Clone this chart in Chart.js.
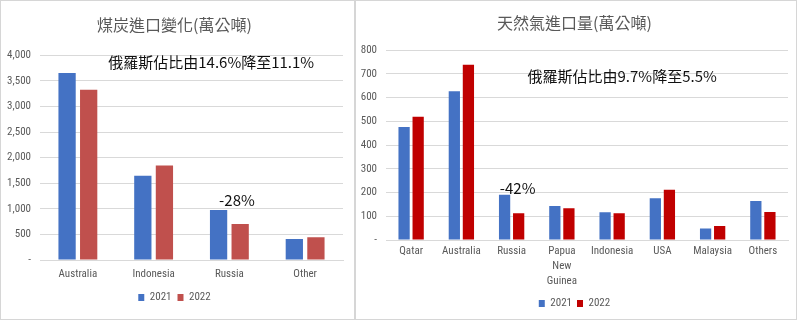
<!DOCTYPE html>
<html>
<head>
<meta charset="utf-8">
<script src="https://cdn.jsdelivr.net/npm/chart.js@4/dist/chart.umd.min.js"></script>
<style>
  body { margin: 0; background: #fff; width: 800px; height: 324px; overflow: hidden; position: relative; }
  .panel { position: absolute; top: 0; height: 320px; box-sizing: border-box; border: 1px solid #d6d6d6; }
  #coalBox { left: 0; width: 355px; }
  #gasBox { left: 355px; width: 442px; }
</style>
</head>
<body>
<div class="panel" id="coalBox"><canvas id="coalChart"></canvas></div>
<div class="panel" id="gasBox"><canvas id="gasChart"></canvas></div>
<script>
// Coal imports (萬公噸)
const coalLabels = ['Australia', 'Indonesia', 'Russia', 'Other'];
const coal2021 = [3650, 1645, 975, 412];
const coal2022 = [3325, 1845, 705, 445];
const coalTicks = { max: 4000, step: 500 };

// Natural gas imports (萬公噸)
const gasLabels = ['Qatar', 'Australia', 'Russia', ['Papua', 'New', 'Guinea'], 'Indonesia', 'USA', 'Malaysia', 'Others'];
const gas2021 = [476, 627, 191, 143, 117, 176, 48, 164];
const gas2022 = [519, 739, 113, 134, 113, 212, 59, 118];
const gasTicks = { max: 800, step: 100 };

// Text notes: x is a category index, y a value on the axis
const coalNotes = [
    { text: '俄羅斯佔比由14.6%降至11.1%', x: 1.76, y: 3860, size: 15 },
    { text: '-28%', x: 2.1, y: 1175, size: 15 }
];
const gasNotes = [
    { text: '俄羅斯佔比由9.7%降至5.5%', x: 4.2, y: 692, size: 15 },
    { text: '-42%', x: 2.12, y: 219, size: 15 }
];

const grey = '#595959';
const tickFont = { family: "'Liberation Sans Narrow', 'Roboto Condensed', 'DejaVu Sans Condensed', sans-serif", size: 11, lineHeight: 1.36 };

// draws the notes through the chart scales
const notesPlugin = {
    id: 'notes',
    afterDatasetsDraw(chart, args, opts) {
        const ctx = chart.ctx;
        ctx.save();
        ctx.fillStyle = '#111';
        ctx.textAlign = 'center';
        ctx.textBaseline = 'middle';
        opts.items.forEach(n => {
            ctx.font = n.size + 'px "Noto Sans CJK TC"';
            ctx.fillText(n.text, chart.scales.x.getPixelForValue(n.x), chart.scales.y.getPixelForValue(n.y));
        });
        ctx.restore();
    }
};

function makeChart(id, title, labels, d21, d22, red, ticks, notes, look) {
    const ctx = document.getElementById(id).getContext('2d');
    return new Chart(ctx, {
        type: 'bar',
        data: {
            labels: labels,
            datasets: [
                { label: '2021', data: d21, backgroundColor: '#4472C4' },
                { label: '2022', data: d22, backgroundColor: red }
            ]
        },
        options: {
            responsive: true,
            maintainAspectRatio: false,
            animation: false,
            datasets: { bar: { categoryPercentage: look.catPct, barPercentage: 0.8 } },
            layout: { padding: look.pad },
            plugins: {
                title: {
                    display: true,
                    text: title,
                    color: grey,
                    font: { family: 'Noto Sans CJK TC', size: 16, weight: 'normal' },
                    padding: { top: 0, bottom: look.titleGap }
                },
                legend: {
                    position: 'bottom',
                    labels: {
                        color: grey,
                        font: tickFont,
                        boxWidth: 6,
                        boxHeight: 7,
                        padding: look.legendPad
                    }
                },
                tooltip: { enabled: false },
                notes: { items: notes }
            },
            scales: {
                x: {
                    grid: { display: false, drawTicks: false },
                    border: { display: true, color: '#d9d9d9' },
                    afterFit: s => { s.height = look.axisHeight; },
                    ticks: { color: grey, font: tickFont, maxRotation: 0, autoSkip: false, padding: look.xPad }
                },
                y: {
                    min: 0,
                    max: ticks.max,
                    grid: { color: '#d9d9d9', drawTicks: false },
                    border: { display: false },
                    afterFit: s => { s.width = look.axisWidth; },
                    ticks: {
                        stepSize: ticks.step,
                        color: grey,
                        font: tickFont,
                        padding: 9,
                        callback: v => v === 0 ? '-' : v.toLocaleString('en-US')
                    }
                }
            }
        },
        plugins: [notesPlugin]
    });
}

document.addEventListener('DOMContentLoaded', () => {
    makeChart('coalChart', '煤炭進口變化(萬公噸)', coalLabels, coal2021, coal2022, '#C0504D',
        coalTicks, coalNotes,
        { pad: { left: 5, right: 11, top: 14, bottom: 6 }, catPct: 0.57, titleGap: 21,
          axisWidth: 34, axisHeight: 26, xPad: 7, legendPad: 6 });
    makeChart('gasChart', '天然氣進口量(萬公噸)', gasLabels, gas2021, gas2022, '#C00000',
        gasTicks, gasNotes,
        { pad: { left: 5, right: 8, top: 12, bottom: 0 }, catPct: 0.56, titleGap: 18,
          axisWidth: 25, axisHeight: 53, xPad: 4, legendPad: 5 });
});
</script>
</body>
</html>
